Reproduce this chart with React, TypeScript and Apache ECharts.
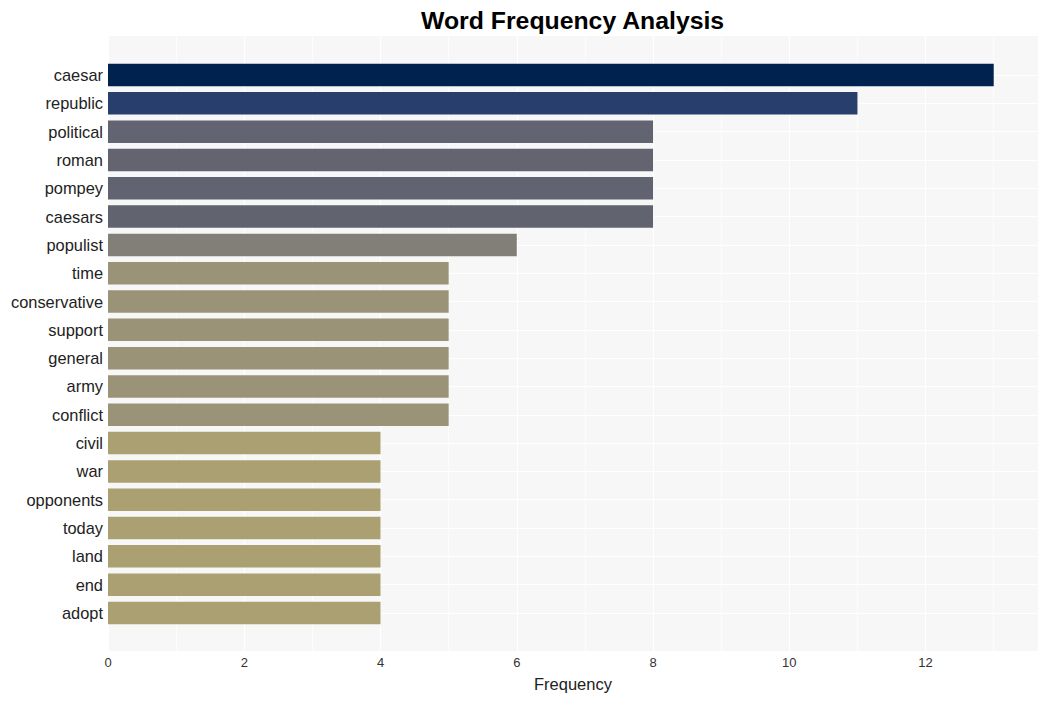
import React, { useEffect, useRef } from "react";
import * as echarts from "echarts";

const categories = [
  "caesar", "republic", "political", "roman", "pompey", "caesars", "populist",
  "time", "conservative", "support", "general", "army", "conflict",
  "civil", "war", "opponents", "today", "land", "end", "adopt",
];
const values = [13, 11, 8, 8, 8, 8, 6, 5, 5, 5, 5, 5, 5, 4, 4, 4, 4, 4, 4, 4];
const barColors = [
  "#00224e", "#283e6d", "#636471", "#636470", "#626370", "#61636f", "#817f78",
  "#9a9377", "#9a9377", "#9a9377", "#9a9377", "#9a9377", "#9a9377",
  "#aaa072", "#aaa072", "#aaa072", "#aaa072", "#aaa072", "#aaa072", "#aaa072",
];
const xTicks = [0, 2, 4, 6, 8, 10, 12];

export default function App() {
  const ref = useRef<HTMLDivElement>(null);
  useEffect(() => {
    document.body.style.margin = "0";
    if (!ref.current) return;
    const chart = echarts.init(ref.current, null, { renderer: "svg" });
    const font = "'Liberation Sans', Arial, sans-serif";
    const xMax = 13.65;
    chart.setOption({
      animation: false,
      title: {
        text: "Word Frequency Analysis",
        left: 416,
        top: 3,
        textStyle: { fontFamily: font, fontSize: 24.8, fontWeight: "bold", color: "#000" },
      },
      grid: [
        { left: 108, right: 10, top: 36, height: 615, show: true, backgroundColor: "#f7f7f7", borderWidth: 0 },
        { left: 108, right: 10, top: 75, height: 538, show: false },
      ],
      xAxis: [
        {
          gridIndex: 0,
          type: "value",
          min: 0,
          max: xMax,
          interval: 2,
          axisLine: { show: false },
          axisTick: { show: false },
          axisLabel: {
            fontFamily: font,
            fontSize: 13,
            color: "#333",
            margin: 5,
            formatter: (v: number) => (xTicks.includes(v) ? String(v) : ""),
          },
          splitLine: { show: true, lineStyle: { color: "#ffffff", width: 1.2 } },
          minorTick: { show: false, splitNumber: 2 },
          minorSplitLine: { show: true, lineStyle: { color: "#ffffff", width: 0.6 } },
          name: "Frequency",
          nameLocation: "middle",
          nameGap: 24,
          nameTextStyle: { fontFamily: font, fontSize: 16.5, color: "#222" },
        },
        {
          gridIndex: 1,
          type: "value",
          min: 0,
          max: xMax,
          show: false,
          splitLine: { show: false },
        },
      ],
      yAxis: [
        {
          gridIndex: 0,
          type: "value",
          show: false,
          splitLine: { show: false },
        },
        {
          gridIndex: 1,
          type: "category",
          data: categories,
          inverse: true,
          boundaryGap: false,
          axisLine: { show: false },
          axisTick: { show: false },
          axisLabel: {
            fontFamily: font,
            fontSize: 16.4,
            color: "#222",
            margin: 5,
            interval: 0,
          },
          splitLine: { show: true, interval: 0, lineStyle: { color: "#ffffff", width: 1 } },
        },
      ],
      series: [
        {
          type: "bar",
          xAxisIndex: 1,
          yAxisIndex: 1,
          barWidth: 22.5,
          data: values.map((v, i) => ({ value: v, itemStyle: { color: barColors[i] } })),
        },
      ],
    });
    return () => chart.dispose();
  }, []);
  return <div ref={ref} style={{ width: 1048, height: 701 }} />;
}
